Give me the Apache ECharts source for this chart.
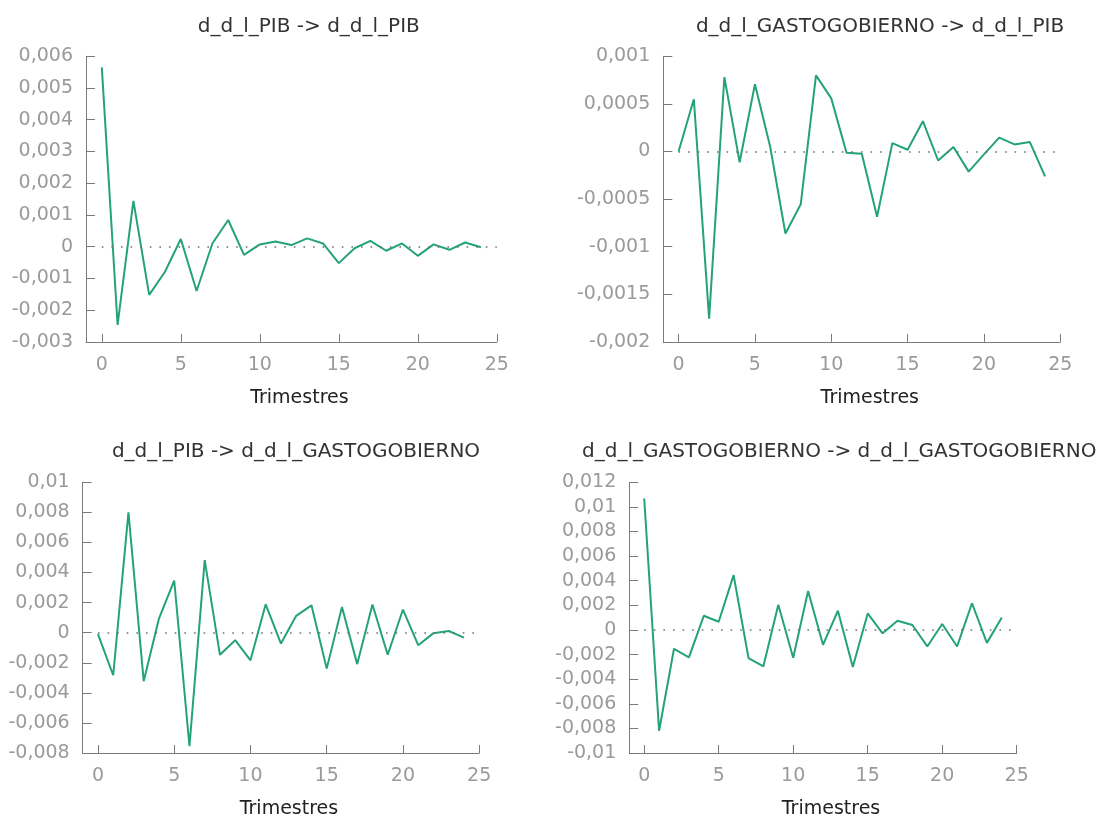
<!DOCTYPE html>
<html>
<head>
<meta charset="utf-8">
<script src="https://cdn.jsdelivr.net/npm/echarts@6/dist/echarts.min.js"></script>
<style>
  html, body { margin: 0; padding: 0; background: #ffffff; }
  #chart { width: 1103px; height: 820px; }
</style>
</head>
<body>
<div id="chart"></div>
<script>
// ---- Data ----
const periods = [0,1,2,3,4,5,6,7,8,9,10,11,12,13,14,15,16,17,18,19,20,21,22,23,24];

const pibToPib = [0.00565,-0.00247,0.00144,-0.00152,-0.00079,0.00024,-0.0014,0.0001,0.00084,-0.00026,
  0.00007,0.00016,0.00005,0.00026,0.0001,-0.00052,-0.00005,0.00018,-0.00013,0.0001,
  -0.00029,0.00007,-0.0001,0.00013,-0.00002];

const gastoToPib = [0,0.000548,-0.001756,0.000781,-0.000113,0.000707,0.00005,-0.000862,-0.000555,0.000799,
  0.000558,-0.000014,-0.000025,-0.000686,0.000088,0.000018,0.000318,-0.000095,0.000046,-0.000212,
  -0.00003,0.000145,0.000074,0.0001,-0.000261];

const pibToGasto = [-0.0001,-0.00283,0.00801,-0.00323,0.00094,0.00347,-0.00755,0.00483,-0.00147,-0.0005,
  -0.00184,0.00189,-0.00072,0.00112,0.00182,-0.00239,0.00171,-0.00209,0.00187,-0.00147,
  0.00154,-0.00083,-0.00003,0.00011,-0.00033];

const gastoToGasto = [0.01068,-0.00819,-0.00153,-0.00223,0.00115,0.00067,0.00446,-0.00228,-0.00295,0.00204,
  -0.00226,0.00317,-0.00121,0.00156,-0.00301,0.00134,-0.00027,0.00075,0.0004,-0.00134,
  0.00048,-0.00134,0.00217,-0.00105,0.00102];

const panelTitles = [
  'd_d_l_PIB -> d_d_l_PIB',
  'd_d_l_GASTOGOBIERNO -> d_d_l_PIB',
  'd_d_l_PIB -> d_d_l_GASTOGOBIERNO',
  'd_d_l_GASTOGOBIERNO -> d_d_l_GASTOGOBIERNO'
];
const xAxisName = 'Trimestres';
const xRange = [-1, 25];
const zeroLineX = [0, 25];
const yMins = [-0.003, -0.002, -0.008, -0.01];
const yMaxs = [0.006, 0.001, 0.01, 0.012];
const yIntervals = [0.001, 0.0005, 0.002, 0.002];
const seriesValues = [pibToPib, gastoToPib, pibToGasto, gastoToGasto];

// ---- Layout / style ----
const grids = [
  { left: 86,    top: 56.3,  width: 410.8, height: 285.5 },
  { left: 663.3, top: 56.3,  width: 397,   height: 285.5 },
  { left: 82.7,  top: 482.3, width: 396.5, height: 273.4 },
  { left: 629.3, top: 482.3, width: 387.4, height: 273.4 }
];
const titlePos = [
  { left: 303.8, top: 12,  textAlign: 'center' },
  { left: 875,   top: 12,  textAlign: 'center' },
  { left: 291,   top: 437, textAlign: 'center' },
  { left: 577,   top: 437, textAlign: 'left' }
];
const FONT = 'DejaVu Sans';
const axisColor = '#7a7a7a';
const labelColor = '#9a9a9a';
const lineColor = '#24a27a';

function fmt(v) {
  const n = +(+v).toPrecision(10);
  return String(n).replace('.', ',');
}

const option = {
  backgroundColor: '#ffffff',
  animation: false,
  title: panelTitles.map((t, i) => ({
    text: t,
    left: titlePos[i].left,
    top: titlePos[i].top,
    textAlign: titlePos[i].textAlign,
    textStyle: { fontFamily: FONT, fontSize: 20, fontWeight: 'normal', color: '#333333' }
  })),
  grid: grids.map(g => Object.assign({ containLabel: false }, g)),
  xAxis: grids.map((g, i) => ({
    type: 'value',
    gridIndex: i,
    min: xRange[0],
    max: xRange[1],
    splitNumber: 5,
    name: xAxisName,
    nameLocation: 'middle',
    nameGap: 47,
    nameTextStyle: { fontFamily: FONT, fontSize: 19, color: '#222222', padding: [0, 0, 0, 16] },
    axisLine: { show: true, onZero: false, lineStyle: { color: axisColor, width: 1 } },
    axisTick: { show: true, inside: true, length: 8, lineStyle: { color: axisColor } },
    axisLabel: {
      fontFamily: FONT, fontSize: 19, color: labelColor, margin: 14,
      formatter: v => (v < 0 ? '' : fmt(v))
    },
    splitLine: { show: false }
  })),
  yAxis: grids.map((g, i) => ({
    type: 'value',
    gridIndex: i,
    min: yMins[i],
    max: yMaxs[i],
    interval: yIntervals[i],
    axisLine: { show: true, onZero: false, lineStyle: { color: axisColor, width: 1 } },
    axisTick: { show: true, inside: true, length: 9, lineStyle: { color: axisColor } },
    axisLabel: { fontFamily: FONT, fontSize: 19, color: labelColor, margin: 13, formatter: fmt },
    splitLine: { show: false }
  })),
  series: seriesValues.map((vals, i) => ({
    type: 'line',
    xAxisIndex: i,
    yAxisIndex: i,
    data: periods.map((p, k) => [p, vals[k]]),
    showSymbol: false,
    symbol: 'none',
    lineStyle: { color: lineColor, width: 2 },
    markLine: {
      silent: true,
      symbol: 'none',
      label: { show: false },
      lineStyle: { color: '#6e6e6e', width: 1.6, type: [1.6, 8] },
      data: [[{ coord: [zeroLineX[0], 0] }, { coord: [zeroLineX[1], 0] }]]
    }
  }))
};

const chart = echarts.init(document.getElementById('chart'), null, { renderer: 'canvas' });
chart.setOption(option);
</script>
</body>
</html>
